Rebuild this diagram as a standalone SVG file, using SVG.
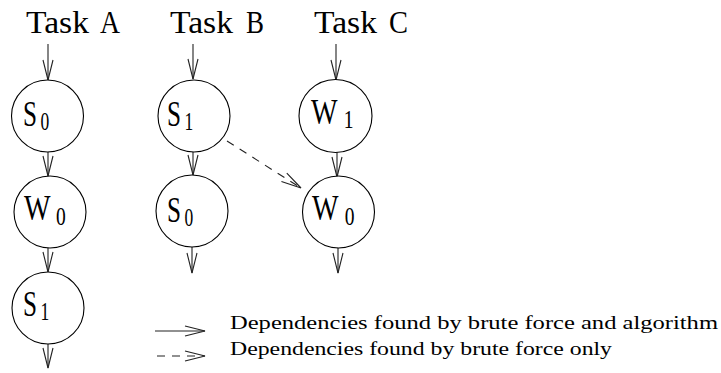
<svg xmlns="http://www.w3.org/2000/svg" width="721" height="373" viewBox="0 0 721 373">
<style>
  .title { font-size: 31px; }
  .main { font-size: 36px; }
  .sub { font-size: 25px; }
  .leg { font-size: 19px; }
  circle { fill: #fff; stroke: #000; stroke-width: 1.1; }
  .c { fill: none; stroke: #222; stroke-width: 1.1; marker-end: url(#v); }
  .d { stroke-dasharray: 8 7; }
</style>
<defs>
  <marker id="v" markerUnits="userSpaceOnUse" viewBox="-21 -6 22 12" refX="0" refY="0" markerWidth="22" markerHeight="12" orient="auto" overflow="visible">
    <path d="M-20,-5 L0,0 L-20,5" fill="none" stroke="#222" stroke-width="1.1"/>
  </marker>
</defs>
<rect width="721" height="373" fill="#fff"/>
<g font-family="Liberation Serif, DejaVu Serif, serif" fill="#000">
<g id="titles">
  <text class="title" x="26" y="33" textLength="63" lengthAdjust="spacingAndGlyphs">Task</text>
  <text class="title" x="100" y="33" textLength="20" lengthAdjust="spacingAndGlyphs">A</text>
  <text class="title" x="170" y="33" textLength="63" lengthAdjust="spacingAndGlyphs">Task</text>
  <text class="title" x="246" y="33" textLength="18" lengthAdjust="spacingAndGlyphs">B</text>
  <text class="title" x="314" y="33" textLength="63" lengthAdjust="spacingAndGlyphs">Task</text>
  <text class="title" x="389" y="33" textLength="19" lengthAdjust="spacingAndGlyphs">C</text>
</g>

<g id="connectors">
  <line class="c" x1="48" y1="44" x2="48" y2="80"/>
  <line class="c" x1="48" y1="152" x2="48" y2="176"/>
  <line class="c" x1="48" y1="248" x2="48" y2="272"/>
  <line class="c" x1="48" y1="344" x2="48" y2="368"/>
  <line class="c" x1="193" y1="44" x2="193" y2="79"/>
  <line class="c" x1="193" y1="152" x2="193" y2="175"/>
  <line class="c" x1="192" y1="247" x2="192" y2="273"/>
  <line class="c" x1="336" y1="44" x2="336" y2="80"/>
  <line class="c" x1="337" y1="152" x2="337" y2="177"/>
  <line class="c" x1="338" y1="247" x2="338" y2="273"/>
  <line class="c d" x1="227" y1="141" x2="301" y2="188"/>
</g>

<g id="A_S0">
  <circle cx="47.5" cy="116" r="36"/>
  <text class="main" transform="translate(23 126) scale(0.7 1)">S<tspan class="sub" x="25" y="4">0</tspan></text>
</g>
<g id="A_W0">
  <circle cx="50" cy="212" r="36"/>
  <text class="main" transform="translate(24 220) scale(0.78 1)">W<tspan class="sub" x="41" y="5">0</tspan></text>
</g>
<g id="A_S1">
  <circle cx="48" cy="308" r="36"/>
  <text class="main" transform="translate(23 316) scale(0.7 1)">S<tspan class="sub" x="25" y="4">1</tspan></text>
</g>
<g id="B_S1">
  <circle cx="194" cy="116" r="36"/>
  <text class="main" transform="translate(167 126) scale(0.7 1)">S<tspan class="sub" x="25" y="4">1</tspan></text>
</g>
<g id="B_S0">
  <circle cx="192" cy="211" r="36"/>
  <text class="main" transform="translate(167 222) scale(0.7 1)">S<tspan class="sub" x="25" y="4">0</tspan></text>
</g>
<g id="C_W1">
  <circle cx="335.5" cy="116" r="36.5"/>
  <text class="main" transform="translate(311 124) scale(0.78 1)">W<tspan class="sub" x="42" y="4">1</tspan></text>
</g>
<g id="C_W0">
  <circle cx="338.5" cy="212" r="36"/>
  <text class="main" transform="translate(312 220) scale(0.78 1)">W<tspan class="sub" x="42" y="5">0</tspan></text>
</g>

<g id="legend">
  <line class="c" x1="155" y1="331" x2="205" y2="331"/>
  <line class="c d" x1="157" y1="356" x2="205" y2="356"/>
  <text class="leg" x="230" y="329" textLength="488" lengthAdjust="spacingAndGlyphs">Dependencies found by brute force and algorithm</text>
  <text class="leg" x="230" y="355" textLength="382" lengthAdjust="spacingAndGlyphs">Dependencies found by brute force only</text>
</g>
</g>
</svg>
